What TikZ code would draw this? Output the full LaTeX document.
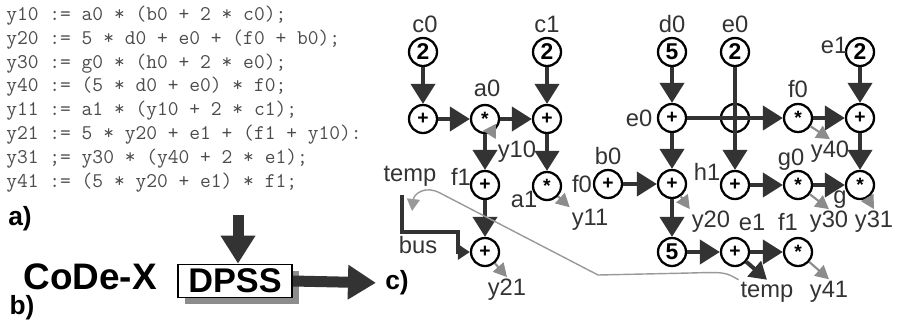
\documentclass[tikz,border=0pt]{standalone}
\usepackage{fontspec}
\setmainfont{Liberation Sans}
\usetikzlibrary{arrows.meta,positioning,shadows}

\begin{document}
\begin{tikzpicture}[x=0.02cm, y=-0.02cm,
    op/.style={circle, draw, line width=1.3pt, minimum size=0.56cm, inner sep=0pt, fill=white, font=\fontsize{11}{11}\selectfont\bfseries},
    const/.style={op, font=\fontsize{13}{13}\selectfont\bfseries},
    lbl/.style={font=\fontsize{13.5}{14}\selectfont, text=black!80, inner sep=1pt},
    code/.style={font=\ttfamily\fontsize{11.9}{12}\selectfont, text=black!70, anchor=west, inner sep=0pt},
    tag/.style={font=\fontsize{15}{15}\selectfont\bfseries, inner sep=0pt},
    flow/.style={-{Triangle[length=0.4cm, width=0.48cm]}, line width=2.3pt, black!80},
    res/.style={-{Triangle[length=0.27cm, width=0.28cm]}, line width=1.2pt, black!45},
    feedback/.style={-{Triangle[length=0.24cm, width=0.26cm]}, line width=0.8pt, black!40},
    big/.style={-{Triangle[length=0.56cm, width=0.66cm]}, line width=0.22cm, black!80},
    tool/.style={draw, line width=1pt, fill=white, minimum width=2.28cm, minimum height=0.66cm, inner sep=0pt,
      font=\fontsize{19.5}{20}\selectfont\bfseries,
      drop shadow={shadow xshift=0.14cm, shadow yshift=-0.13cm, fill=black!45, opacity=1}}
  ]
    \useasboundingbox (0,0) rectangle (902,322);

    % a) source code
    \node[code] (ln1) at (6,16)  {y10 := a0 * (b0 + 2 * c0);};
    \node[code] (ln2) at (6,40)  {y20 := 5 * d0 + e0 + (f0 + b0);};
    \node[code] (ln3) at (6,64)  {y30 := g0 * (h0 + 2 * e0);};
    \node[code] (ln4) at (6,87)  {y40 := (5 * d0 + e0) * f0;};
    \node[code] (ln5) at (6,111) {y11 := a1 * (y10 + 2 * c1);};
    \node[code] (ln6) at (6,135) {y21 := 5 * y20 + e1 + (f1 + y10):};
    \node[code] (ln7) at (6,159) {y31 ;= y30 * (y40 + 2 * e1);};
    \node[code] (ln8) at (6,183) {y41 := (5 * y20 + e1) * f1;};
    \node[tag] (ta) at (20,219) {a)};

    % b) tool
    \node[font=\fontsize{21}{21}\selectfont\bfseries, inner sep=0pt] (codex) at (90,277) {CoDe-X};
    \node[tag] (tb) at (22,308) {b)};
    \node[tool] (dpss) at (235,281) {DPSS};
    \coordinate (dpssin) at (238,215);
    \node[tag] (tc) at (397,283) {c)};
    \draw[big] (dpssin) -- (dpssin |- dpss.north);
    \draw[big, shorten >=0.18cm] (dpss.east) -- (tc.west);

    % c) data flow graph
    \node[const] (c0c) at (423,52) {2};
    \node[op] (c0p) at (423,119) {+};
    \node[op] (a0m) at (485,119) {*};
    \node[const] (c1c) at (547,52) {2};
    \node[op] (c1p) at (547,119) {+};
    \node[op] (f1p) at (485,185) {+};
    \node[op] (a1m) at (547,186) {*};
    \node[op] (busp) at (485,252) {+};

    \node[const] (d0c) at (672,52) {5};
    \node[const] (e0c) at (735,52) {2};
    \node[const] (e1c) at (860,52) {2};
    \node[op] (e0p) at (672,118) {+};
    \node[op] (xing) at (735,118) {};
    \node[op] (f0m) at (798,118) {*};
    \node[op] (e1p) at (860,118) {+};
    \node[op] (f0p) at (608,184) {+};
    \node[op] (y20p) at (672,184) {+};
    \node[op] (h1p) at (735,185) {+};
    \node[op] (g0m) at (798,185) {*};
    \node[op] (gm) at (860,185) {*};
    \node[const] (d1c) at (672,252) {5};
    \node[op] (e1q) at (735,252) {+};
    \node[op] (f1m) at (798,252) {*};

    % variable names
    \node[lbl] (c0) at (425,24) {c0};
    \node[lbl] (c1) at (547,24) {c1};
    \node[lbl] (a0) at (487,88) {a0};
    \node[lbl] (f1) at (461,177) {f1};
    \node[lbl] (a1) at (524,199) {a1};
    \node[lbl] (tmpl-lbl) at (410,176) {temp};
    \node[lbl] (bus) at (418,245) {bus};
    \node[lbl] (b0) at (608,156) {b0};
    \node[lbl] (f0l) at (582,184) {f0};
    \node[lbl] (e0l) at (639,118) {e0};
    \node[lbl] (d0) at (672,24) {d0};
    \node[lbl] (e0) at (735,24) {e0};
    \node[lbl] (e1) at (834,45) {e1};
    \node[lbl] (f0) at (798,89) {f0};
    \node[lbl] (h1) at (707,172) {h1};
    \node[lbl] (g0) at (791,160) {g0};
    \node[lbl] (g) at (840,200) {g};
    \node[lbl] (e1b) at (752,222) {e1};
    \node[lbl] (f1b) at (788,222) {f1};
    \node[lbl] (y10) at (517,152) {y10};
    \node[lbl] (y11) at (590,220) {y11};
    \node[lbl] (y21) at (507,290) {y21};
    \node[lbl] (y20) at (711,222) {y20};
    \node[lbl] (y40) at (830,152) {y40};
    \node[lbl] (y30) at (829,222) {y30};
    \node[lbl] (y31) at (874,222) {y31};
    \node[lbl] (tmpr) at (767,292) {temp};
    \node[lbl] (y41) at (829,292) {y41};

    \coordinate (bustop) at (402,195);
    \coordinate (busbend) at (458,232);
    \coordinate (tmpl) at (412,211);

    \draw[flow] (c0c) -- (c0p);
    \draw[flow] (c0p) -- (a0m);
    \draw[flow] (a0m) -- (c1p);
    \draw[flow] (c1c) -- (c1p);
    \draw[flow] (a0m) -- (f1p);
    \draw[flow] (c1p) -- (a1m);
    \draw[flow] (f1p) -- (busp);
    \draw[flow, -{Triangle[length=0.24cm, width=0.3cm]}] (bustop) |- (busbend) |- (busp);

    \draw[flow] (d0c) -- (e0p);
    \draw[flow] (e0p) -- (f0m);
    \draw[flow] (f0m) -- (e1p);
    \draw[flow] (e1c) -- (e1p);
    \draw[flow] (e1p) -- (gm);
    \draw[flow] (e0c) -- (h1p);
    \draw[flow] (e0p) -- (y20p);
    \draw[flow] (f0p) -- (y20p);
    \draw[flow] (y20p) -- (d1c);
    \draw[flow] (h1p) -- (g0m);
    \draw[flow] (g0m) -- (gm);
    \draw[flow] (d1c) -- (e1q);
    \draw[flow] (e1q) -- (f1m);
    \draw[flow, -{Triangle[length=0.34cm, width=0.4cm]}] (e1q) -- (tmpr.north);

    % results
    \draw[res] (a0m) -- (y10.north west);
    \draw[res] (a1m) -- (y11.north west);
    \draw[res] (busp) -- (y21.north);
    \draw[res] (y20p) -- (y20.north west);
    \draw[res] (f0m) -- (y40.north);
    \draw[res] (g0m) -- (y30.north);
    \draw[res] (gm) -- (y31.north);
    \draw[res] (f1m) -- (y41.north);

    % temp fed back over the bus
    \draw[feedback] (tmpr.north west) .. controls (725,272) .. (690,273) -- (598,275) -- (440,193)
      .. controls (425,185) and (414,194) .. (tmpl);
\end{tikzpicture}
\end{document}
